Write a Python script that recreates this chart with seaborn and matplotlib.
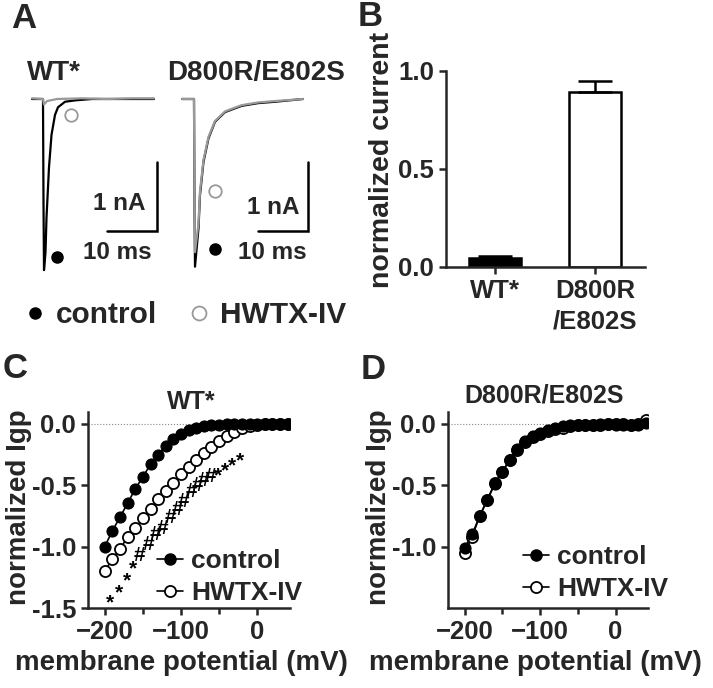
import numpy as np
import pandas as pd
import matplotlib
matplotlib.use('Agg')
import matplotlib.pyplot as plt
from matplotlib.lines import Line2D
import seaborn as sns

sns.set_style('ticks')
plt.rcParams['font.family'] = ['Liberation Sans', 'DejaVu Sans']
plt.rcParams['font.weight'] = 'bold'
plt.rcParams['axes.labelweight'] = 'bold'
plt.rcParams['axes.linewidth'] = 1.8

# ---- data ----
# panel A: current traces (time in ms, current in nA)
wt_ctrl_t = [0, 2.2, 2.3, 2.4, 2.7, 2.9, 3.4, 3.9, 4.6, 5.2, 6.6, 8.6, 12, 18, 24.4]
wt_ctrl_i = [0, 0, -1.5, -2.48, -2.22, -1.72, -0.99, -0.52, -0.23, -0.12, -0.04, -0.02, 0, 0, 0]
wt_hwtx_t = [0, 2.2, 2.4, 3.0, 5.0, 10, 15, 20, 24.4]
wt_hwtx_i = [0.01, 0, -0.08, -0.03, 0, 0.01, 0, 0.01, 0.01]
mut_ctrl_t = [0, 2.4, 2.5, 2.6, 3.3, 3.6, 4.3, 5.3, 6.6, 8.6, 11.9, 15.2, 18.6, 24.2]
mut_ctrl_i = [0, 0, -1.5, -2.43, -1.87, -1.39, -0.91, -0.57, -0.33, -0.19, -0.10, -0.06, -0.04, 0]
mut_hwtx_t = [0, 2.4, 2.5, 2.6, 3.3, 3.6, 4.3, 5.3, 6.6, 8.6, 11.9, 15.2, 18.6, 24.2]
mut_hwtx_i = [0, 0, -1.4, -2.22, -1.80, -1.34, -0.88, -0.55, -0.32, -0.18, -0.09, -0.05, -0.03, 0]

# panel B: normalized current
b_labels = ['WT*', 'D800R\n/E802S']
b_mean = [0.045, 0.89]
b_sem = [0.01, 0.06]

# panels C, D: normalized Igp vs membrane potential
volts = [-200, -190, -180, -170, -160, -150, -140, -130, -120, -110, -100, -90, -80,
         -70, -60, -50, -40, -30, -20, -10, 0, 10, 20, 30, 40]
wt_ctrl = [-1.00, -0.87, -0.76, -0.645, -0.53, -0.43, -0.33, -0.25, -0.18, -0.12, -0.08, -0.05, -0.03,
           -0.02, -0.01, -0.005, 0, 0, 0, 0, 0, 0, 0, 0, 0]
wt_hwtx = [-1.20, -1.10, -1.02, -0.92, -0.85, -0.77, -0.69, -0.615, -0.545, -0.48, -0.41, -0.35, -0.29,
           -0.24, -0.19, -0.14, -0.10, -0.065, -0.035, -0.015, -0.005, 0, 0, 0, 0]
mut_ctrl = [-1.01, -0.90, -0.75, -0.62, -0.49, -0.39, -0.29, -0.20, -0.14, -0.10, -0.07, -0.05, -0.03,
            -0.02, -0.01, -0.01, -0.005, -0.005, 0, 0, -0.005, -0.01, -0.005, -0.01, 0.01]
mut_hwtx = [-1.05, -0.92, -0.75, -0.62, -0.48, -0.39, -0.29, -0.21, -0.15, -0.11, -0.08, -0.06, -0.04,
            -0.03, -0.02, -0.01, -0.01, -0.01, -0.005, 0, 0, 0, -0.005, 0, 0.03]

# significance symbols in panel C
sig_v = [-193, -182, -171, -163, -154, -143, -134, -124, -114, -105, -97, -86, -78, -71, -62,
         -51, -42, -33, -22]
sig_y = [-1.41, -1.33, -1.23, -1.13, -1.07, -0.98, -0.90, -0.85, -0.76, -0.70, -0.63, -0.55,
         -0.50, -0.46, -0.43, -0.37, -0.33, -0.29, -0.25]
sig_sym = ['*', '*', '*', '*', '#', '#', '#', '#', '#', '#', '#', '#', '#', '#', '#',
           '*', '*', '*', '*']

W, H = 713, 688
fig = plt.figure(figsize=(W / 100, H / 100), dpi=100)


def fx(px):
    return px / W


def fy(py):
    return 1 - py / H


def axes_px(x0, y0, x1, y1):
    return fig.add_axes([fx(x0), fy(y1), fx(x1) - fx(x0), fy(y0) - fy(y1)])


# ---- panel A ----
for (x0, x1, ct, ci, ht, hi, title, tcx, dot, circ, bar_t, nA_pos, ms_pos) in [
        (25, 165, wt_ctrl_t, wt_ctrl_i, wt_hwtx_t, wt_hwtx_i, 'WT*', 54,
         (5.0, -2.29), (7.8, -0.23), 25.0, (17.4, -1.51), (17.0, -2.23)),
        (175, 320, mut_ctrl_t, mut_ctrl_i, mut_hwtx_t, mut_hwtx_i, 'D800R/E802S', 256,
         (6.6, -2.17), (6.6, -1.33), 25.2, (18.2, -1.57), (18.0, -2.23))]:
    ax = axes_px(x0, 60, x1, 280)
    sns.lineplot(x=ct, y=ci, ax=ax, color='black', lw=1.6, sort=False)
    sns.lineplot(x=ht, y=hi, ax=ax, color='#999999', lw=1.6, sort=False)
    t0 = 32 if x0 == 25 else 182
    ax.set_xlim((x0 - t0) / 5, (x1 - t0) / 5)
    ax.set_ylim(-181 / 69, 39 / 69)
    ax.axis('off')
    # scale bars
    ax.plot([bar_t - 10, bar_t, bar_t], [-1.92, -1.92, -0.92], color='black', lw=1.8,
            solid_joinstyle='miter')
    ax.text(*nA_pos, '1 nA', ha='center', va='center', fontsize=17.5, fontweight='bold')
    ax.text(*ms_pos, '10 ms', ha='center', va='center', fontsize=17.5, fontweight='bold')
    ax.plot(*dot, 'o', color='black', ms=8)
    ax.plot(*circ, 'o', mfc='none', mec='#999999', mew=1.3, ms=9)
    fig.text(fx(tcx), fy(73), title, ha='center', va='center', fontsize=20, fontweight='bold')

leg_a = [Line2D([], [], ls='none', marker='o', color='black', ms=8),
         Line2D([], [], ls='none', marker='o', mfc='none', mec='#999999', mew=1.3, ms=10)]
fig.legend(leg_a, ['control', 'HWTX-IV'], loc='center left', bbox_to_anchor=(fx(26), fy(315)),
           ncol=2, frameon=False, handlelength=0.6, handletextpad=0.4, columnspacing=1.1,
           borderpad=0, borderaxespad=0, prop={'size': 21.5, 'weight': 'bold'})

# ---- panel B ----
axb = axes_px(446, 70.7, 645, 267)
dfb = pd.DataFrame({'group': b_labels, 'value': b_mean})
sns.barplot(data=dfb, x='group', y='value', ax=axb, width=0.52, errorbar=None,
            palette=['black', 'white'], hue='group', legend=False,
            edgecolor='black', linewidth=1.8)
axb.errorbar([0, 1], b_mean, yerr=[[0, 0], b_sem], fmt='none', ecolor='black',
             elinewidth=1.8, capsize=12, capthick=1.8)
axb.set_xlim(-0.49, 1.5)
axb.set_ylim(0, 1.0)
axb.set_yticks([0, 0.5, 1.0])
axb.set_yticklabels(['0.0', '0.5', '1.0'])
axb.set_xlabel('')
axb.set_ylabel('normalized current', fontsize=20.5)
axb.yaxis.set_label_coords(-0.255, 0.545)
axb.tick_params(labelsize=18.5, width=1.8, length=5)
sns.despine(ax=axb)
for lab in axb.get_xticklabels() + axb.get_yticklabels():
    lab.set_fontweight('bold')
    lab.set_linespacing(1.35)

# ---- panels C, D ----
for (x0, x1, ctrl, hwtx, title, tpos, yticks, ylcx, xlcx, leg_anchor, show_sig) in [
        (88, 290, wt_ctrl, wt_hwtx, 'WT*', (0.51, 1.05), [0, -0.5, -1.0, -1.5], -0.277, 0.465,
         (157, 577), True),
        (448, 648, mut_ctrl, mut_hwtx, 'D800R/E802S', (0.48, 1.085), [0, -0.5, -1.0], -0.28, 0.435,
         (523, 573), False)]:
    ax = axes_px(x0, 411.7, x1, 608)
    ax.axhline(0, color='#888888', ls=':', lw=0.8, zorder=0)
    sns.lineplot(x=volts, y=hwtx, ax=ax, color='black', lw=1.2, marker='o', ms=8,
                 mfc='white', mec='black', mew=1.3, zorder=2)
    sns.lineplot(x=volts, y=ctrl, ax=ax, color='black', lw=1.2, marker='o', ms=8,
                 mfc='black', mec='black', zorder=3)
    if show_sig:
        for v, yv, s in zip(sig_v, sig_y, sig_sym):
            ax.text(v, yv - (0.05 if s == '*' else 0), s, ha='center', va='center',
                    fontsize=15, fontweight='bold', color='black')
    ax.set_xlim(-222, 43)
    ax.set_ylim(-1.5, 0.1)
    ax.set_xticks([-200, -100, 0])
    ax.set_xticks([-150, -50], minor=True)
    ax.set_yticks(yticks)
    ax.set_yticklabels([f'{t:.1f}' for t in yticks])
    ax.tick_params(labelsize=18.5, width=1.8, length=5)
    ax.tick_params(which='minor', width=1.8, length=4)
    ax.set_xlabel('membrane potential (mV)', fontsize=20)
    ax.set_ylabel('normalized Igp', fontsize=20)
    ax.xaxis.set_label_coords(xlcx, -0.214)
    ax.yaxis.set_label_coords(ylcx, 0.515)
    ax.set_title(title, fontsize=18, fontweight='bold', x=tpos[0], y=tpos[1], va='center', pad=0)
    for lab in ax.get_xticklabels() + ax.get_yticklabels():
        lab.set_fontweight('bold')
    sns.despine(ax=ax)
    handles = [Line2D([], [], color='black', lw=1.2, marker='o', ms=8, mfc='black'),
               Line2D([], [], color='black', lw=1.2, marker='o', ms=8, mfc='white', mew=1.3)]
    ax.legend(handles, ['control', 'HWTX-IV'], loc='center left',
              bbox_to_anchor=(fx(leg_anchor[0]), fy(leg_anchor[1])), bbox_transform=fig.transFigure,
              frameon=False, handlelength=1.0, handletextpad=0.3, labelspacing=0.3,
              borderpad=0, borderaxespad=0, prop={'size': 19, 'weight': 'bold'})

# panel letters
for lab, (px, py) in {'A': (24, 18), 'B': (370, 16), 'C': (15, 369), 'D': (373, 370)}.items():
    fig.text(fx(px), fy(py), lab, ha='center', va='center', fontsize=25, fontweight='bold')

fig.savefig('out.png', dpi=100)
